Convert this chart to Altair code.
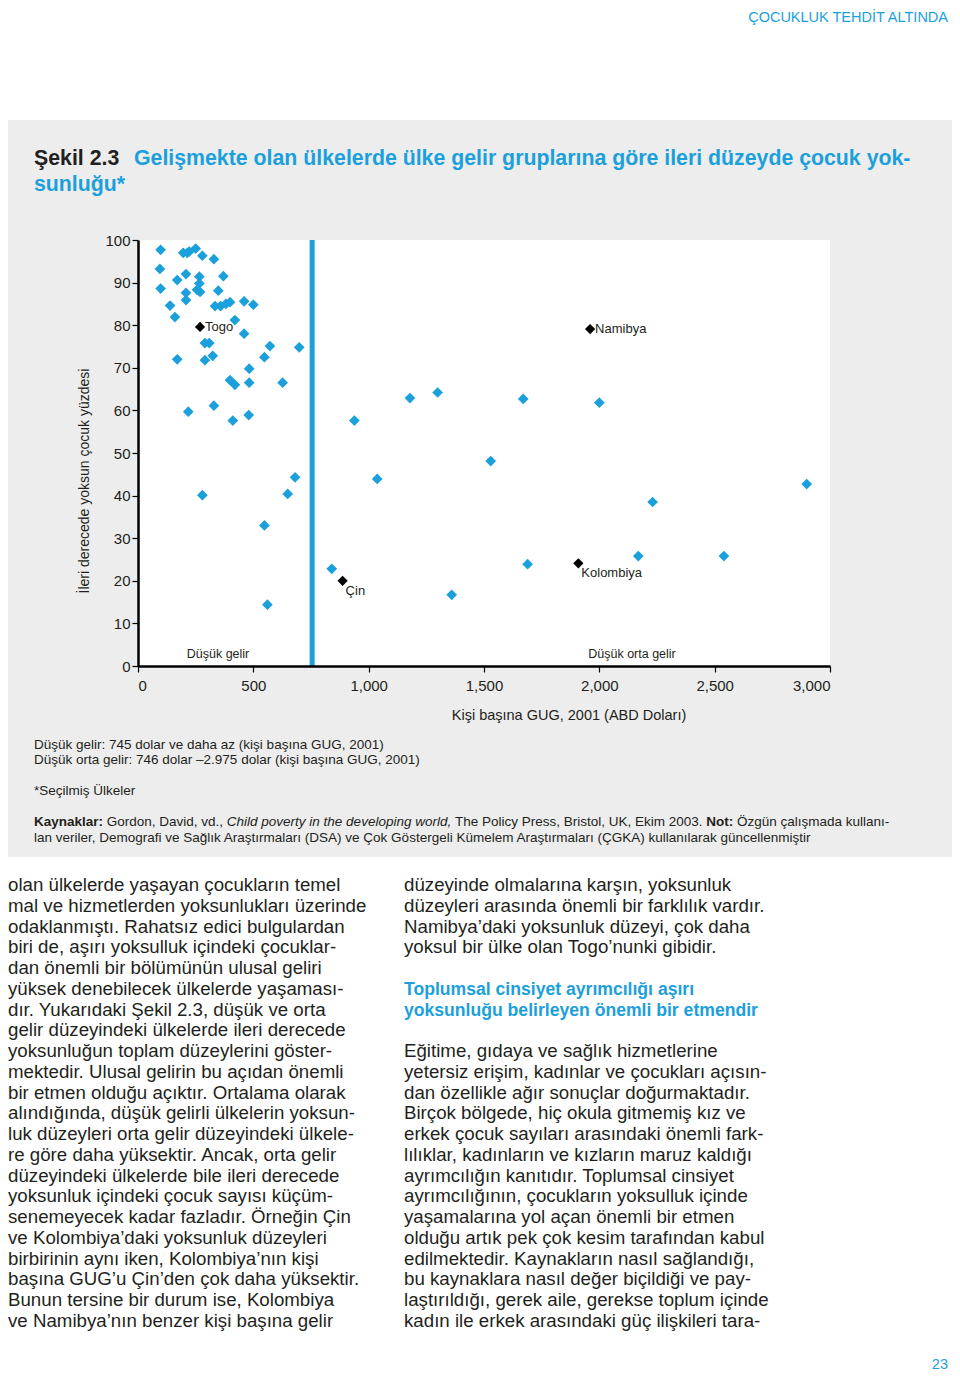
import altair as alt
import pandas as pd

# ---------------- data ----------------
blue_gni = [98, 95, 98, 139, 160, 170, 170, 208, 208, 208, 196, 214, 222, 250, 279, 329,
            266, 266, 256, 269, 370, 348, 334, 358, 381, 399, 460, 500, 420, 460,
            290, 309, 290, 324, 572, 699, 548, 482, 399, 420, 482, 627,
            218, 329, 411, 480, 279, 681, 649, 548, 561,
            938, 1179, 1299, 1670, 1529, 1037, 840, 1360, 1689,
            2000, 2231, 2899, 2169, 2540]
blue_pct = [97.7, 93.2, 88.6, 84.6, 81.9, 72.0, 90.6, 92.0, 87.6, 85.9, 97.0, 97.0, 97.3, 98.0, 96.3, 95.5,
            91.4, 89.8, 88.3, 87.8, 91.5, 88.1, 84.5, 84.5, 85.0, 85.4, 85.6, 84.8, 81.2, 78.0,
            75.8, 75.8, 71.8, 72.8, 75.1, 74.8, 72.5, 69.8, 67.1, 66.0, 66.5, 66.5,
            59.7, 61.1, 57.6, 58.9, 40.1, 44.3, 40.4, 33.0, 14.4,
            57.6, 62.9, 64.2, 62.7, 48.1, 43.9, 22.8, 16.7, 23.9,
            61.8, 38.5, 42.7, 25.8, 25.8]

right_names = ["Togo", "Namibya"]
right_gni = [269, 1960]
right_pct = [79.6, 79.1]

below_names = ["Çin", "Kolombiya"]
below_gni = [887, 1909]
below_pct = [20.0, 24.1]

threshold_gni = [755]

x_ticks = [0, 500, 1000, 1500, 2000, 2500, 3000]
y_ticks = [0, 10, 20, 30, 40, 50, 60, 70, 80, 90, 100]

header_text = "ÇOCUKLUK TEHDİT ALTINDA"
title_black = "Şekil 2.3"
title_blue_1 = "Gelişmekte olan ülkelerde ülke gelir gruplarına göre ileri düzeyde çocuk yok-"
title_blue_2 = "sunluğu*"
y_title = "İleri derecede yoksun çocuk yüzdesi"
x_title = "Kişi başına GUG, 2001 (ABD Doları)"
group_low = "Düşük gelir"
group_lowmid = "Düşük orta gelir"
notes_lines = ["Düşük gelir: 745 dolar ve daha az (kişi başına GUG, 2001)",
               "Düşük orta gelir: 746 dolar –2.975 dolar (kişi başına GUG, 2001)"]
selected_note = "*Seçilmiş Ülkeler"
src_parts = ["Kaynaklar:", "Gordon, David, vd.,", "Child poverty in the developing world,",
             "The Policy Press, Bristol, UK, Ekim 2003.", "Not:", "Özgün çalışmada kullanı-"]
src_line2 = "lan veriler, Demografi ve Sağlık Araştırmaları (DSA) ve Çok Göstergeli Kümelem Araştırmaları (ÇGKA) kullanılarak güncellenmiştir"

left_col = [
    "olan ülkelerde yaşayan çocukların temel",
    "mal ve hizmetlerden yoksunlukları üzerinde",
    "odaklanmıştı. Rahatsız edici bulgulardan",
    "biri de, aşırı yoksulluk içindeki çocuklar-",
    "dan önemli bir bölümünün ulusal geliri",
    "yüksek denebilecek ülkelerde yaşaması-",
    "dır. Yukarıdaki Şekil 2.3, düşük ve orta",
    "gelir düzeyindeki ülkelerde ileri derecede",
    "yoksunluğun toplam düzeylerini göster-",
    "mektedir. Ulusal gelirin bu açıdan önemli",
    "bir etmen olduğu açıktır. Ortalama olarak",
    "alındığında, düşük gelirli ülkelerin yoksun-",
    "luk düzeyleri orta gelir düzeyindeki ülkele-",
    "re göre daha yüksektir. Ancak, orta gelir",
    "düzeyindeki ülkelerde bile ileri derecede",
    "yoksunluk içindeki çocuk sayısı küçüm-",
    "senemeyecek kadar fazladır. Örneğin Çin",
    "ve Kolombiya’daki yoksunluk düzeyleri",
    "birbirinin aynı iken, Kolombiya’nın kişi",
    "başına GUG’u Çin’den çok daha yüksektir.",
    "Bunun tersine bir durum ise, Kolombiya",
    "ve Namibya’nın benzer kişi başına gelir",
]
right_col_1 = [
    "düzeyinde olmalarına karşın, yoksunluk",
    "düzeyleri arasında önemli bir farklılık vardır.",
    "Namibya’daki yoksunluk düzeyi, çok daha",
    "yoksul bir ülke olan Togo’nunki gibidir.",
]
right_heading = [
    "Toplumsal cinsiyet ayrımcılığı aşırı",
    "yoksunluğu belirleyen önemli bir etmendir",
]
right_col_2 = [
    "Eğitime, gıdaya ve sağlık hizmetlerine",
    "yetersiz erişim, kadınlar ve çocukları açısın-",
    "dan özellikle ağır sonuçlar doğurmaktadır.",
    "Birçok bölgede, hiç okula gitmemiş kız ve",
    "erkek çocuk sayıları arasındaki önemli fark-",
    "lılıklar, kadınların ve kızların maruz kaldığı",
    "ayrımcılığın kanıtıdır. Toplumsal cinsiyet",
    "ayrımcılığının, çocukların yoksulluk içinde",
    "yaşamalarına yol açan önemli bir etmen",
    "olduğu artık pek çok kesim tarafından kabul",
    "edilmektedir. Kaynakların nasıl sağlandığı,",
    "bu kaynaklara nasıl değer biçildiği ve pay-",
    "laştırıldığı, gerek aile, gerekse toplum içinde",
    "kadın ile erkek arasındaki güç ilişkileri tara-",
]
page_number = "23"

# ---------------- styles ----------------
BLUE = "#1ba0dc"
INK = "#231f20"
GREY = "#ededed"
BODY = "Liberation Sans"
CHARTF = "Liberation Sans"
W, H = 692, 426
OX, OY = 138, 240  # page position of the plot origin
LH = 20.75
BODY_SIZE = 18.7
NOTE_SIZE = 13.5
# page x where each segment of the source line begins (segments laid end to end)
SRC_X = [34, 106.8, 226.8, 454.9, 706.2, 737]


def px(v):
    return v - OX


def py(v):
    return v - OY


def text_layer(s, x, y, size, color=INK, font=BODY, weight="normal", style="normal",
               align="left", baseline="alphabetic", angle=None, lh=None):
    kw = dict(align=align, baseline=baseline, fontSize=size, font=font,
              fontWeight=weight, fontStyle=style, color=color, lineBreak="\n")
    if angle is not None:
        kw["angle"] = angle
    if lh is not None:
        kw["lineHeight"] = lh
    return alt.Chart(pd.DataFrame({"t": [s]})).mark_text(**kw).encode(
        x=alt.value(x), y=alt.value(y), text="t:N")


one = pd.DataFrame({"k": [0]})

panel = alt.Chart(one).mark_rect(color=GREY).encode(
    x=alt.value(px(8)), x2=alt.value(px(952)), y=alt.value(py(120)), y2=alt.value(py(857)))
white = alt.Chart(one).mark_rect(color="white").encode(
    x=alt.value(0), x2=alt.value(W), y=alt.value(0), y2=alt.value(H))

xscale = alt.Scale(domain=[0, 3000], nice=False, zero=False)
yscale = alt.Scale(domain=[0, 100], nice=False)

axis_common = dict(domainColor="black", domainWidth=2.5, tickColor="black", tickWidth=1.2,
                   tickSize=6, labelFontSize=15, labelColor=INK, labelFont=CHARTF,
                   grid=False, title=None, zindex=1)

xenc = alt.X("gni:Q", scale=xscale,
             axis=alt.Axis(values=x_ticks, format=",d", labelPadding=6, **axis_common))
yenc = alt.Y("pct:Q", scale=yscale,
             axis=alt.Axis(values=y_ticks, format="d", labelPadding=2, **axis_common))

pts = pd.DataFrame({"gni": blue_gni, "pct": blue_pct})
blue_pts = alt.Chart(pts).mark_point(shape="diamond", filled=True, size=115, color=BLUE,
                                     opacity=1).encode(x=xenc, y=yenc)

rule = alt.Chart(pd.DataFrame({"gni": threshold_gni})).mark_rule(
    color=BLUE, strokeWidth=5).encode(x=alt.X("gni:Q", scale=xscale))

rdf = pd.DataFrame({"gni": right_gni, "pct": right_pct, "name": right_names})
bdf = pd.DataFrame({"gni": below_gni, "pct": below_pct, "name": below_names})
black_r = alt.Chart(rdf).mark_point(shape="diamond", filled=True, size=105, color="black",
                                    opacity=1).encode(x="gni:Q", y="pct:Q")
black_b = alt.Chart(bdf).mark_point(shape="diamond", filled=True, size=105, color="black",
                                    opacity=1).encode(x="gni:Q", y="pct:Q")
lab_r = alt.Chart(rdf).mark_text(align="left", baseline="middle", dx=5, fontSize=13,
                                 font=CHARTF, color=INK).encode(x="gni:Q", y="pct:Q", text="name:N")
lab_b = alt.Chart(bdf).mark_text(align="left", baseline="middle", dx=3, dy=10, fontSize=13,
                                 font=CHARTF, color=INK).encode(x="gni:Q", y="pct:Q", text="name:N")

texts = [
    text_layer(header_text, px(948), py(21.5), 14.5, color=BLUE, align="right"),
    text_layer(title_black, px(34), py(165), 21.3, weight="bold"),
    text_layer(title_blue_1, px(134), py(165), 21.3, color=BLUE, weight="bold"),
    text_layer(title_blue_2, px(34), py(191), 21.3, color=BLUE, weight="bold"),
    text_layer(y_title, px(85), py(481), 14, font=CHARTF, align="center", baseline="middle", angle=270),
    text_layer(x_title, px(569), py(716), 14.5, font=CHARTF, align="center", baseline="middle"),
    text_layer(group_low, px(218), py(654), 12.5, font=CHARTF, align="center", baseline="middle"),
    text_layer(group_lowmid, px(632), py(654), 12.5, font=CHARTF, align="center", baseline="middle"),
    text_layer("\n".join(notes_lines), px(34), py(749), NOTE_SIZE, lh=15),
    text_layer(selected_note, px(34), py(795), NOTE_SIZE),
    text_layer(src_parts[0], px(SRC_X[0]), py(826), NOTE_SIZE, weight="bold"),
    text_layer(src_parts[1], px(SRC_X[1]), py(826), NOTE_SIZE),
    text_layer(src_parts[2], px(SRC_X[2]), py(826), NOTE_SIZE, style="italic"),
    text_layer(src_parts[3], px(SRC_X[3]), py(826), NOTE_SIZE),
    text_layer(src_parts[4], px(SRC_X[4]), py(826), NOTE_SIZE, weight="bold"),
    text_layer(src_parts[5], px(SRC_X[5]), py(826), NOTE_SIZE),
    text_layer(src_line2, px(34), py(842), NOTE_SIZE),
    text_layer("\n".join(left_col), px(8), py(891), BODY_SIZE, lh=LH),
    text_layer("\n".join(right_col_1), px(404), py(891), BODY_SIZE, lh=LH),
    text_layer("\n".join(right_heading), px(404), py(891 + 5 * LH), 17.6, color=BLUE,
               weight="bold", lh=LH),
    text_layer("\n".join(right_col_2), px(404), py(891 + 8 * LH), BODY_SIZE, lh=LH),
    text_layer(page_number, px(948), py(1365), 14.5, color=BLUE, align="right",
               baseline="middle"),
]

chart = alt.layer(
    panel, white, rule, blue_pts, black_r, black_b, lab_r, lab_b, *texts
).properties(
    width=W, height=H,
    padding={"left": 130, "top": 232, "right": 122, "bottom": 710},
    autosize=alt.AutoSizeParams(type="none"),
    background="white",
).configure_view(stroke=None)

chart.save("out.html", embed_options={"renderer": "svg", "actions": False})
